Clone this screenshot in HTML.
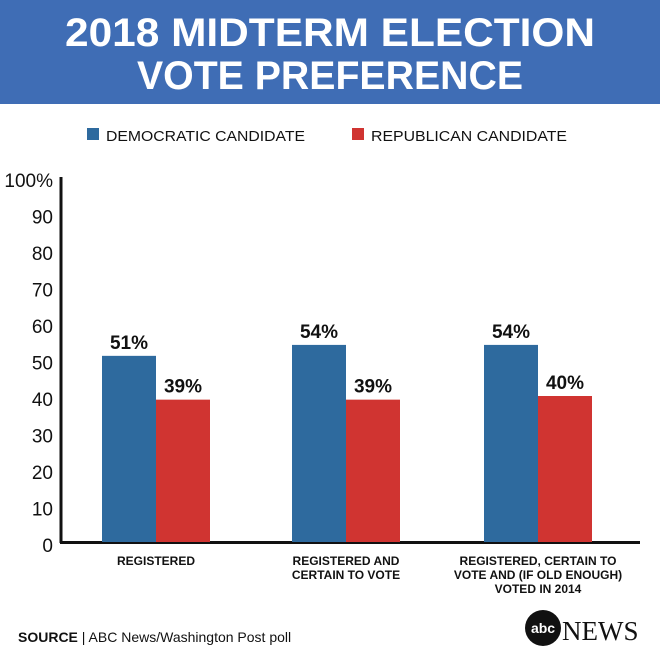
<!DOCTYPE html>
<html><head><meta charset="utf-8"><style>
body{margin:0;width:660px;height:660px;background:#fff;overflow:hidden;font-family:"Liberation Sans",sans-serif;}
</style></head><body>
<svg width="660" height="660" xmlns="http://www.w3.org/2000/svg">
<rect x="0" y="0" width="660" height="104" fill="#3f6db5"/>
<text x="65" y="46" textLength="530" lengthAdjust="spacingAndGlyphs" fill="#fff" font-size="40" font-weight="bold">2018 MIDTERM ELECTION</text>
<text x="137" y="89" textLength="386" lengthAdjust="spacingAndGlyphs" fill="#fff" font-size="40" font-weight="bold">VOTE PREFERENCE</text>
<rect x="87" y="128" width="12" height="12" fill="#2e6a9e"/>
<text x="106" y="141" textLength="199" lengthAdjust="spacingAndGlyphs" font-size="15" fill="#111">DEMOCRATIC CANDIDATE</text>
<rect x="352" y="128" width="12" height="12" fill="#d03431"/>
<text x="371" y="141" textLength="196" lengthAdjust="spacingAndGlyphs" font-size="15" fill="#111">REPUBLICAN CANDIDATE</text>
<g id="plot"></g>
<text x="18" y="642" font-size="14" fill="#111"><tspan font-weight="bold">SOURCE</tspan> | ABC News/Washington Post poll</text>
<circle cx="543" cy="628" r="18" fill="#111"/>
<text x="543" y="633" text-anchor="middle" font-size="14" font-weight="bold" fill="#fff">abc</text>
<text x="562" y="640" font-family="Liberation Serif,serif" font-size="27" fill="#111">NEWS</text>
</svg>
<script>
const categories=[["REGISTERED"],["REGISTERED AND","CERTAIN TO VOTE"],["REGISTERED, CERTAIN TO","VOTE AND (IF OLD ENOUGH)","VOTED IN 2014"]];
const demValues=[51,54,54];
const repValues=[39,39,40];
const yTicks=[0,10,20,30,40,50,60,70,80,90,100];
const yTickLabels=["0","10","20","30","40","50","60","70","80","90","100%"];
const NS="http://www.w3.org/2000/svg";
const g=document.getElementById('plot');
const base=542, scale=3.65;
function y(v){return base-v*scale;}
const groupStarts=[102,292,484];
function gx(i){return groupStarts[i];}
const bw=54;
function mk(t,a,txt){const e=document.createElementNS(NS,t);for(const k in a)e.setAttribute(k,a[k]);if(txt!==undefined)e.textContent=txt;g.appendChild(e);return e;}
let e;
e=mk('line',{x1:61,y1:177,x2:61,y2:543,stroke:'#111','stroke-width':3});


e=mk('line',{x1:60,y1:542.5,x2:640,y2:542.5,stroke:'#111','stroke-width':3});


yTicks.forEach((t,i)=>{
 e=mk('text',{x:53,y:y(t)+10,'text-anchor':'end','font-size':19,fill:'#111'},yTickLabels[i]);
 
 
});
categories.forEach((c,i)=>{
 const x0=gx(i);
 e=mk('rect',{x:x0,y:y(demValues[i]),width:bw,height:demValues[i]*scale,fill:'#2e6a9e'});
 
 
 e=mk('rect',{x:x0+bw,y:y(repValues[i]),width:bw,height:repValues[i]*scale,fill:'#d03431'});
 
 
 e=mk('text',{x:x0+bw/2,y:y(demValues[i])-7,'text-anchor':'middle','font-size':19,'font-weight':'bold',fill:'#111'},demValues[i]+'%');
 
 
 e=mk('text',{x:x0+bw*1.5,y:y(repValues[i])-7,'text-anchor':'middle','font-size':19,'font-weight':'bold',fill:'#111'},repValues[i]+'%');
 
 
 c.forEach((line,j)=>{
  e=mk('text',{x:x0+bw,y:565+j*14,'text-anchor':'middle','font-size':12,'font-weight':'bold',fill:'#111'},line);
  
  
 });
});
</script>
</body></html>
